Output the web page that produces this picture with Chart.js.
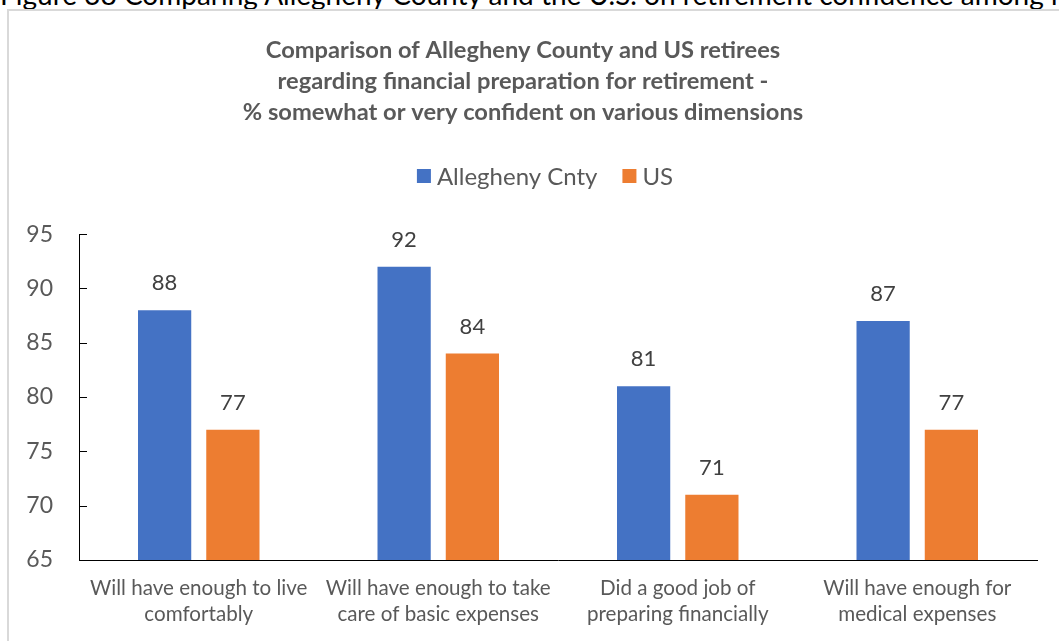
<!DOCTYPE html>
<html>
<head>
<meta charset="utf-8">
<script src="https://cdn.jsdelivr.net/npm/chart.js@4.4.1/dist/chart.umd.min.js"></script>
<style>
  html, body { margin: 0; padding: 0; background: #fff; overflow: hidden; width: 1059px; height: 641px; }
  #caption { position: absolute; left: 0; top: -23px; font: 28px/34px Lato, sans-serif; color: #000; white-space: nowrap; }
  #box { position: absolute; left: 7px; top: 9px; width: 1064px; height: 650px; border: 2px solid #d9d9d9; }
</style>
</head>
<body>
<div id="caption">Figure 38 Comparing Allegheny County and the U.S. on retirement confidence among retirees in the region</div>
<div id="box"><canvas id="chart" width="1064" height="650"></canvas></div>
<script>
const categories = [
    ['Will have enough to live', 'comfortably'],
    ['Will have enough to take', 'care of basic expenses'],
    ['Did a good job of', 'preparing financially'],
    ['Will have enough for', 'medical expenses']
];
const allegheny = [88, 92, 81, 87];
const us = [77, 84, 71, 77];
const yTicks = [65, 70, 75, 80, 85, 90, 95];

const FONT = 'Lato, "Open Sans", sans-serif';

// value labels above bars
const barLabels = {
    id: 'barLabels',
    afterDatasetsDraw(chart) {
        const ctx = chart.ctx;
        ctx.save();
        ctx.font = '22px ' + FONT;
        ctx.fillStyle = '#404040';
        ctx.textAlign = 'center';
        ctx.textBaseline = 'middle';
        chart.data.datasets.forEach((ds, i) => {
            chart.getDatasetMeta(i).data.forEach((bar, j) => {
                ctx.fillText(ds.data[j], bar.x, bar.y - 27);
            });
        });
        ctx.restore();
    }
};

// small tick marks on the inside of the y axis
const innerTicks = {
    id: 'innerTicks',
    afterDraw(chart) {
        const y = chart.scales.y;
        const ctx = chart.ctx;
        ctx.save();
        ctx.strokeStyle = '#000';
        ctx.lineWidth = 1;
        y.ticks.forEach(t => {
            const py = Math.round(y.getPixelForValue(t.value)) + 0.5;
            ctx.beginPath();
            ctx.moveTo(y.right, py);
            ctx.lineTo(y.right + 8, py);
            ctx.stroke();
        });
        ctx.restore();
    }
};

// excel-style legend: small square, tight gap to the text
const sideLegend = {
    id: 'sideLegend',
    afterDraw(chart) {
        const ctx = chart.ctx;
        const sets = chart.data.datasets;
        ctx.save();
        ctx.font = '24px ' + FONT;
        ctx.textBaseline = 'middle';
        const box = 14, gap = 6, between = 25;
        let total = 0;
        sets.forEach((ds, i) => {
            total += box + gap + ctx.measureText(ds.label).width;
            if (i < sets.length - 1) total += between;
        });
        let x = chart.width / 2 + 4 - total / 2;
        const cy = 165;
        sets.forEach(ds => {
            ctx.fillStyle = ds.backgroundColor;
            ctx.fillRect(x, cy - box / 2, box, box);
            x += box + gap;
            ctx.fillStyle = '#595959';
            ctx.fillText(ds.label, x, cy + 1);
            x += ctx.measureText(ds.label).width + between;
        });
        ctx.restore();
    }
};

new Chart(document.getElementById('chart'), {
    type: 'bar',
    data: {
        labels: categories,
        datasets: [{
            label: 'Allegheny Cnty',
            data: allegheny,
            backgroundColor: '#4472C4',
            barPercentage: 0.78,
            categoryPercentage: 0.57
        }, {
            label: 'US',
            data: us,
            backgroundColor: '#ED7D31',
            barPercentage: 0.78,
            categoryPercentage: 0.57
        }]
    },
    options: {
        responsive: false,
        animation: false,
        layout: { padding: { left: 0, right: 36, top: 0, bottom: 0 } },
        scales: {
            x: {
                grid: { display: false },
                border: { display: true, color: '#000', width: 1 },
                ticks: {
                    color: '#595959',
                    font: { family: FONT, size: 20.6, lineHeight: 1.26 },
                    padding: 7,
                    maxRotation: 0,
                    autoSkip: false
                },
                afterFit(scale) { scale.height = 101; }
            },
            y: {
                min: 65,
                max: 95,
                afterBuildTicks(scale) { scale.ticks = yTicks.map(v => ({ value: v })); },
                grid: { display: false },
                border: { display: true, color: '#000', width: 1 },
                ticks: {
                    color: '#595959',
                    font: { family: FONT, size: 23 },
                    padding: 18
                },
                afterFit(scale) { scale.width = 70; }
            }
        },
        plugins: {
            title: {
                display: true,
                text: [
                    'Comparison of Allegheny County and US retirees',
                    'regarding financial preparation for retirement -',
                    '% somewhat or very confident on various dimensions'
                ],
                color: '#595959',
                font: { family: FONT, size: 23.7, weight: 'bold', lineHeight: 1.31 },
                padding: { top: 24, bottom: 106 }
            },
            legend: { display: false },
            tooltip: { enabled: false }
        }
    },
    plugins: [barLabels, innerTicks, sideLegend]
});
</script>
</body>
</html>
